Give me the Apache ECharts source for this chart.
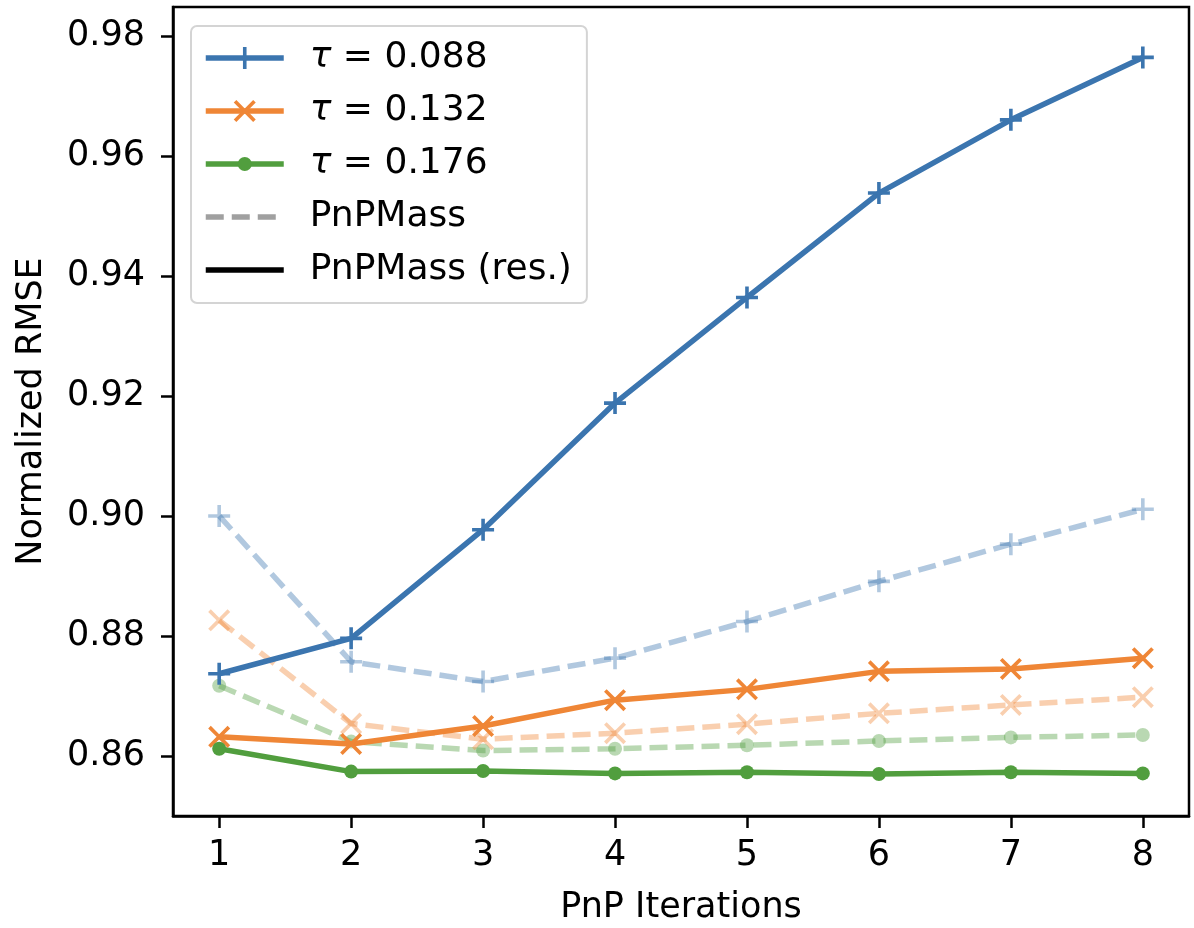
<!DOCTYPE html>
<html>
<head>
<meta charset="utf-8">
<title>Normalized RMSE vs PnP Iterations</title>
<script src="https://cdn.jsdelivr.net/npm/echarts@6/dist/echarts.min.js"></script>
<style>
    html, body { margin: 0; padding: 0; background: #fff; }
    #chart { width: 1194px; height: 928px; }
</style>
</head>
<body>
<div id="chart"></div>
<script>
(function () {
    'use strict';

    // x: PnP iterations
    var iterations = [1, 2, 3, 4, 5, 6, 7, 8];
    var xTicks = [1, 2, 3, 4, 5, 6, 7, 8];
    var yTicks = [0.86, 0.88, 0.90, 0.92, 0.94, 0.96, 0.98];

    // PnPMass (res.) -- solid lines
    var res088 = [0.8737, 0.8796, 0.8977, 0.9188, 0.9364, 0.9538, 0.9660, 0.9764];
    var res132 = [0.8632, 0.8620, 0.8650, 0.8693, 0.8711, 0.8741, 0.8745, 0.8763];
    var res176 = [0.8612, 0.8574, 0.8575, 0.8571, 0.8573, 0.8570, 0.8573, 0.8571];

    // PnPMass -- faded dashed lines
    var plain088 = [0.9000, 0.8757, 0.8724, 0.8763, 0.8824, 0.8891, 0.8953, 0.9011];
    var plain132 = [0.8826, 0.8654, 0.8628, 0.8638, 0.8653, 0.8671, 0.8685, 0.8698];
    var plain176 = [0.8717, 0.8624, 0.8609, 0.8612, 0.8618, 0.8625, 0.8631, 0.8635];

    var tauNames = ['τ = 0.088', 'τ = 0.132', 'τ = 0.176'];

    var BLUE = '#3b75af', ORANGE = '#ef8636', GREEN = '#519e3e';
    var FONT = 'DejaVu Sans';
    var FADE = 0.4;
    var DASH = [18, 8];
    var LW = 5.5;

    // marker shapes, all drawn inside a 22x22 box
    var PLUS = 'path://M9.2,0 H12.8 V9.2 H22 V12.8 H12.8 V22 H9.2 V12.8 H0 V9.2 H9.2 Z';
    var CROSS = 'path://M0,2.6 L2.6,0 L11,8.4 L19.4,0 L22,2.6 L13.6,11 L22,19.4 L19.4,22 L11,13.6 L2.6,22 L0,19.4 L8.4,11 Z';
    var DOT = 'path://M0,0 M22,22 M4,11 A7,7 0 1 0 18,11 A7,7 0 1 0 4,11 Z';

    function pairs(ys) {
        return iterations.map(function (x, i) { return [x, ys[i]]; });
    }

    function lineSeries(name, ys, color, symbol, faded) {
        return {
            name: name,
            type: 'line',
            data: pairs(ys),
            symbol: symbol,
            symbolSize: 22,
            showSymbol: true,
            z: faded ? 2 : 3,
            itemStyle: { color: color, opacity: faded ? FADE : 1, borderWidth: 0 },
            lineStyle: {
                color: color,
                width: LW,
                type: faded ? DASH : 'solid',
                opacity: faded ? FADE : 1
            },
            emphasis: { disabled: true },
            silent: true
        };
    }

    var series = [
        lineSeries('PnPMass 0.088', plain088, BLUE, PLUS, true),
        lineSeries('PnPMass 0.132', plain132, ORANGE, CROSS, true),
        lineSeries('PnPMass 0.176', plain176, GREEN, DOT, true),
        lineSeries(tauNames[0], res088, BLUE, PLUS, false),
        lineSeries(tauNames[1], res132, ORANGE, CROSS, false),
        lineSeries(tauNames[2], res176, GREEN, DOT, false),
        // legend-only entries
        {
            name: 'PnPMass', type: 'line', data: [], symbol: 'none',
            itemStyle: { color: '#a0a0a0' },
            lineStyle: { color: '#a0a0a0', width: LW, type: DASH }
        },
        {
            name: 'PnPMass (res.)', type: 'line', data: [], symbol: 'none',
            itemStyle: { color: '#000' },
            lineStyle: { color: '#000', width: LW, type: 'solid' }
        }
    ];

    var chart = echarts.init(document.getElementById('chart'), null, { renderer: 'canvas' });

    chart.setOption({
        animation: false,
        backgroundColor: '#fff',
        grid: {
            left: 173, right: 5, top: 7, bottom: 112,
            containLabel: false,
            outerBoundsMode: 'none',
            show: true,
            borderColor: '#000',
            borderWidth: 2.5,
            backgroundColor: 'transparent'
        },
        legend: {
            orient: 'vertical',
            left: 191,
            top: 26,
            data: [
                { name: tauNames[0] },
                { name: tauNames[1] },
                { name: tauNames[2] },
                { name: 'PnPMass', itemStyle: { opacity: 0 } },
                { name: 'PnPMass (res.)', itemStyle: { opacity: 0 } }
            ],
            itemWidth: 78,
            itemHeight: 27.5,
            itemGap: 13,
            padding: [12, 15, 13, 12],
            backgroundColor: 'rgba(255,255,255,0.85)',
            borderColor: '#d4d4d4',
            borderWidth: 2,
            borderRadius: 6,
            selectedMode: false,
            lineStyle: { width: LW },
            formatter: function (name) {
                return name.replace('τ', '{i|τ}');
            },
            textStyle: {
                fontFamily: FONT,
                fontSize: 36,
                lineHeight: 40,
                color: '#000',
                padding: [0, 0, 0, 21],
                rich: {
                    i: { fontFamily: FONT, fontSize: 36, fontStyle: 'italic', color: '#000', lineHeight: 40 }
                }
            }
        },
        xAxis: {
            type: 'value',
            min: 0.65,
            max: 8.35,
            name: 'PnP Iterations',
            nameLocation: 'middle',
            nameGap: 74,
            nameTextStyle: { fontFamily: FONT, fontSize: 35, color: '#000' },
            axisLine: { show: true, onZero: false, lineStyle: { color: '#000', width: 2.5 } },
            axisTick: { show: true, customValues: xTicks, length: 12, lineStyle: { color: '#000', width: 2.5 } },
            axisLabel: {
                customValues: xTicks,
                margin: 22,
                fontFamily: FONT,
                fontSize: 35,
                color: '#000'
            },
            splitLine: { show: false }
        },
        yAxis: {
            type: 'value',
            min: 0.85,
            max: 0.9848,
            name: 'Normalized RMSE',
            nameLocation: 'middle',
            nameGap: 124,
            nameTextStyle: { fontFamily: FONT, fontSize: 35, color: '#000' },
            axisLine: { show: true, onZero: false, lineStyle: { color: '#000', width: 2.5 } },
            axisTick: { show: true, customValues: yTicks, length: 12, lineStyle: { color: '#000', width: 2.5 } },
            axisLabel: {
                customValues: yTicks,
                margin: 28,
                fontFamily: FONT,
                fontSize: 35,
                color: '#000',
                formatter: function (v) { return v.toFixed(2); }
            },
            splitLine: { show: false }
        },
        series: series
    });

    window.addEventListener('resize', function () { chart.resize(); });
})();
</script>
</body>
</html>
